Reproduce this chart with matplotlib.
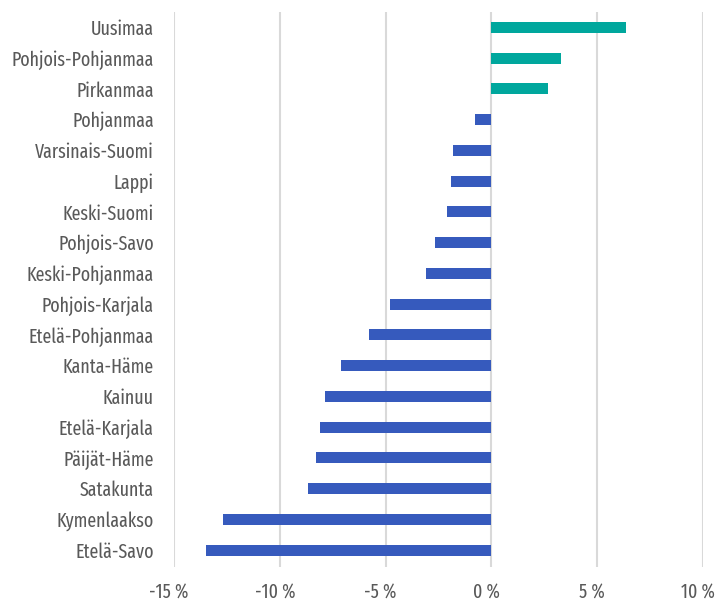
import matplotlib
matplotlib.use("Agg")
import matplotlib.pyplot as plt
import matplotlib.transforms as mtransforms

regions = ["Uusimaa", "Pohjois-Pohjanmaa", "Pirkanmaa", "Pohjanmaa", "Varsinais-Suomi",
           "Lappi", "Keski-Suomi", "Pohjois-Savo", "Keski-Pohjanmaa", "Pohjois-Karjala",
           "Etelä-Pohjanmaa", "Kanta-Häme", "Kainuu", "Etelä-Karjala", "Päijät-Häme",
           "Satakunta", "Kymenlaakso", "Etelä-Savo"]
values = [6.38, 3.28, 2.69, -0.79, -1.80, -1.89, -2.10, -2.68, -3.09, -4.79,
          -5.80, -7.09, -7.88, -8.08, -8.29, -8.68, -12.7, -13.5]
xticks = [-15, -10, -5, 0, 5, 10]
xticklabels = ["-15 %", "-10 %", "-5 %", "0 %", "5 %", "10 %"]

plt.rcParams['font.family'] = ["Fira Sans Extra Condensed", "DejaVu Sans"]

fig = plt.figure(figsize=(7.18, 6.01), dpi=100)
ax = fig.add_axes([174/718, 1-567/601, (703-174)/718, (567-12)/601])

pos_color = "#00A79D"
neg_color = "#365ABD"
colors = [pos_color if v >= 0 else neg_color for v in values]
ypos = list(range(len(regions)))
ax.barh(ypos, values, height=0.36, color=colors, zorder=3)

ax.set_xlim(-15, 10)
ax.set_ylim(len(regions) - 0.45, -0.5)
ax.set_yticks(ypos)
ax.set_yticklabels(regions)
ax.set_xticks(xticks)
ax.set_xticklabels(xticklabels)

ax.grid(axis='x', color='#d9d9d9', linewidth=1.5, zorder=0)
ax.grid(axis='y', visible=False)
for s in ax.spines.values():
    s.set_visible(False)
ax.tick_params(axis='both', length=0, labelsize=14, labelcolor='#595959')
ax.tick_params(axis='y', pad=14.5)
ax.tick_params(axis='x', pad=11)

offset = mtransforms.ScaledTranslation(-5/100, 0, fig.dpi_scale_trans)
for lab in ax.get_xticklabels():
    lab.set_transform(lab.get_transform() + offset)

fig.savefig("out.png", dpi=100)
